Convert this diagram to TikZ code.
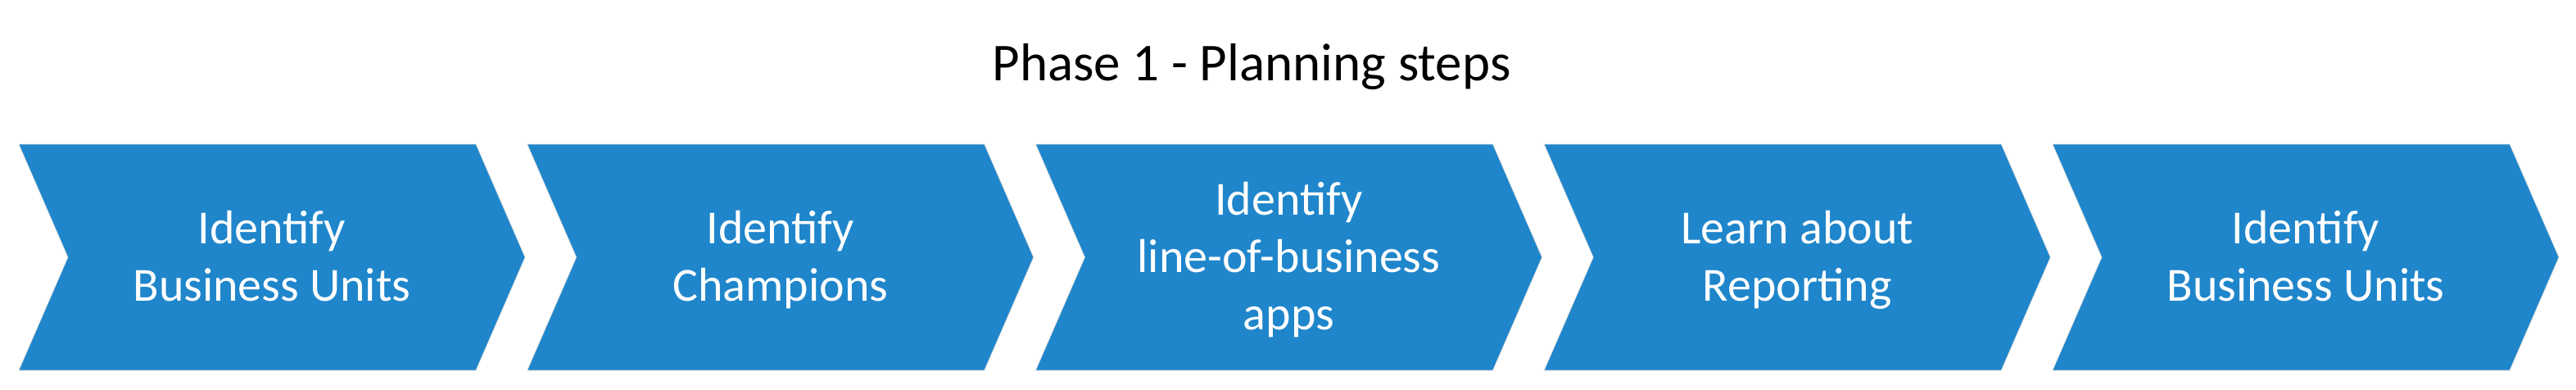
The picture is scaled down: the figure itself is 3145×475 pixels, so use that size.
\documentclass[tikz,border=0pt]{standalone}
\usepackage{fontspec}
\setmainfont{Carlito}
\definecolor{stepblue}{RGB}{31,134,203}

\begin{document}
\begin{tikzpicture}[x=1pt,y=1pt,
  chevron/.style={fill=stepblue,draw=black!15,line width=0.6pt},
  steptext/.style={text=white,align=center,font=\fontsize{58}{70}\selectfont,yshift=-4pt}]
  \useasboundingbox (0,0) rectangle (3145,475);
  \node[font=\fontsize{65}{78}\selectfont,anchor=base] (title) at (1528,377) {Phase 1 - Planning steps};
  % the five steps
  \foreach \i in {0,...,4}
    \draw[chevron] ({23+620.75*\i},299) -- ++(558,0) -- ++(60,-138) -- ++(-60,-138)
      -- ++(-558,0) -- ++(60,138) -- cycle;
  \node[steptext] (step1) at (332,161) {\strut Identify\\\strut Business Units};
  \node[steptext] (step2) at (952.75,161) {\strut Identify\\\strut Champions};
  \node[steptext] (step3) at (1573.5,161) {\strut Identify\\\strut line-of-business\\\strut apps};
  \node[steptext] (step4) at (2194.25,161) {\strut Learn about\\\strut Reporting};
  \node[steptext] (step5) at (2815,161) {\strut Identify\\\strut Business Units};
\end{tikzpicture}
\end{document}
